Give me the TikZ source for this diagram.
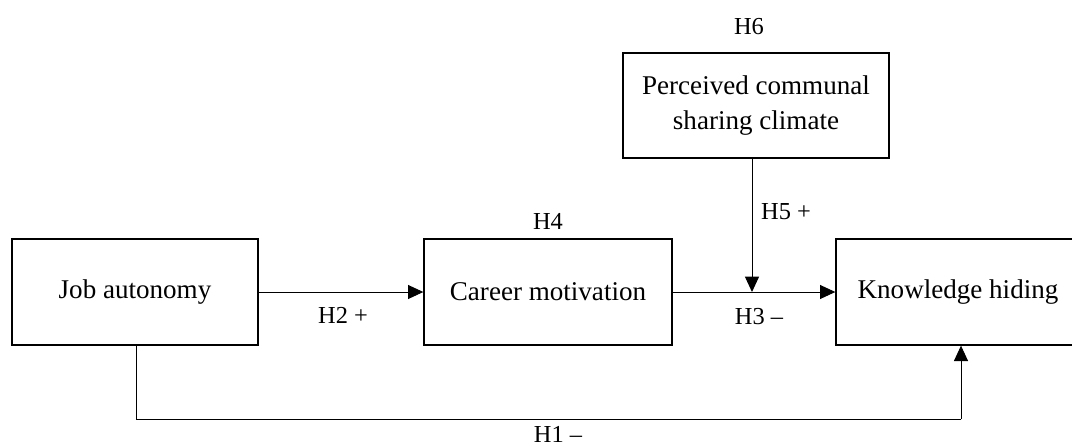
\documentclass[tikz,border=0pt]{standalone}
\usepackage{fontspec}
\setmainfont{Liberation Serif}
\usetikzlibrary{arrows.meta}
\begin{document}
\begin{tikzpicture}[x=0.75pt,y=-0.75pt,
  box/.style={draw,line width=1pt,inner sep=0pt,align=center,font=\fontsize{20.3}{26}\selectfont,minimum height=79.5pt},
  conn/.style={line width=0.7pt},
  arr/.style={conn,-{Triangle[length=11.5pt,width=10.5pt]}},
  lbl/.style={font=\fontsize{18.3}{22}\selectfont,inner sep=0pt}]
\clip (0,0) rectangle (1072,447);
\useasboundingbox (0,0) rectangle (1072,447);
\node[box,minimum width=184.5pt] (ja) at (135,292) {Job autonomy};
\node[box,minimum width=186pt] (cm) at (548,292) {Career motivation};
\node[box,minimum width=183pt] (kh) at (958,292) {Knowledge hiding};
\node[box,minimum width=199.5pt,minimum height=78.75pt] (pc) at (756,105.5) {Perceived communal\\sharing climate};
\coordinate (m) at (752,292);
\coordinate (b1) at (136,419);
\coordinate (b2) at (961,419);
\draw[arr] (ja.east) -- (cm.west);
\draw[arr] (cm.east) -- (kh.west);
\draw[arr] (pc.south -| m) -- (m);
\draw[conn] (ja.south -| b1) -- (b1) -- (b2);
\draw[arr] (b2) -- (b2 |- kh.south);
\node[lbl] (h2) at (343,315) {H2 +};
\node[lbl] (h3) at (759,317) {H3 –};
\node[lbl] (h4) at (548,221) {H4};
\node[lbl] (h5) at (786,212) {H5 +};
\node[lbl] (h6) at (749,27) {H6};
\node[lbl] (h1) at (558,434) {H1 –};
\end{tikzpicture}
\end{document}
